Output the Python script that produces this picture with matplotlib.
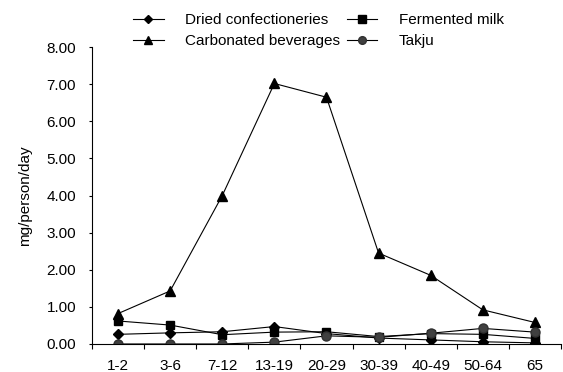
import matplotlib.pyplot as plt
import numpy as np

plt.rcParams['font.family'] = ['Liberation Sans', 'DejaVu Sans']

# age groups
ages = ['1-2', '3-6', '7-12', '13-19', '20-29', '30-39', '40-49', '50-64', '65']

dried = [0.26, 0.30, 0.33, 0.47, 0.28, 0.16, 0.11, 0.06, 0.03]
fermented = [0.62, 0.51, 0.25, 0.32, 0.33, 0.20, 0.28, 0.26, 0.15]
carbonated = [0.82, 1.43, 4.00, 7.02, 6.65, 2.45, 1.85, 0.92, 0.58]
takju = [0.00, 0.00, 0.00, 0.05, 0.22, 0.18, 0.29, 0.42, 0.32]

fig = plt.figure(figsize=(5.63, 3.72), dpi=100)
ax = fig.add_axes([0.1634, 0.0753, 0.833, 0.798])

x = np.arange(len(ages))
kw = dict(color='black', lw=0.8)
l1, = ax.plot(x, dried, marker='D', ms=5, mfc='black', mec='black', **kw)
l2, = ax.plot(x, fermented, marker='s', ms=6, mfc='black', mec='black', **kw)
l3, = ax.plot(x, carbonated, marker='^', ms=7, mfc='black', mec='black', **kw)
l4, = ax.plot(x, takju, marker='o', ms=6.5, mfc='#404040', mec='#303030', **kw)

ax.set_xlim(-0.5, len(ages) - 0.5)
ax.set_ylim(0, 8)
# ticks between groups, labels centred on groups
ax.set_xticks(np.arange(-0.5, len(ages), 1))
ax.set_xticklabels([])
ax.set_xticks(x, minor=True)
ax.set_xticklabels(ages, minor=True)
ax.tick_params(axis='x', which='minor', length=0, pad=11, labelsize=11)
ax.tick_params(axis='x', which='major', length=3.6, direction='out', width=0.8)
ax.set_yticks(np.arange(0, 9, 1))
ax.set_yticklabels(['%.2f' % v for v in range(9)])
ax.tick_params(axis='y', length=2.5, direction='out', labelsize=11, pad=9, width=0.8)
ax.spines['top'].set_visible(False)
ax.spines['right'].set_visible(False)
ax.spines['left'].set_linewidth(0.8)
ax.spines['bottom'].set_linewidth(0.8)
ax.set_ylabel('mg/person/day', fontsize=11, labelpad=10)

fig.legend([l1, l3, l2, l4],
           ['Dried confectioneries', 'Carbonated beverages', 'Fermented milk', 'Takju'],
           ncol=2, loc='upper left', bbox_to_anchor=(133 / 563, 0.965), frameon=False,
           fontsize=11, handlelength=2.0, handletextpad=1.4, columnspacing=0.45,
           labelspacing=0.45, borderaxespad=0, borderpad=0, markerscale=0.85)

fig.savefig('out.png', dpi=100)
